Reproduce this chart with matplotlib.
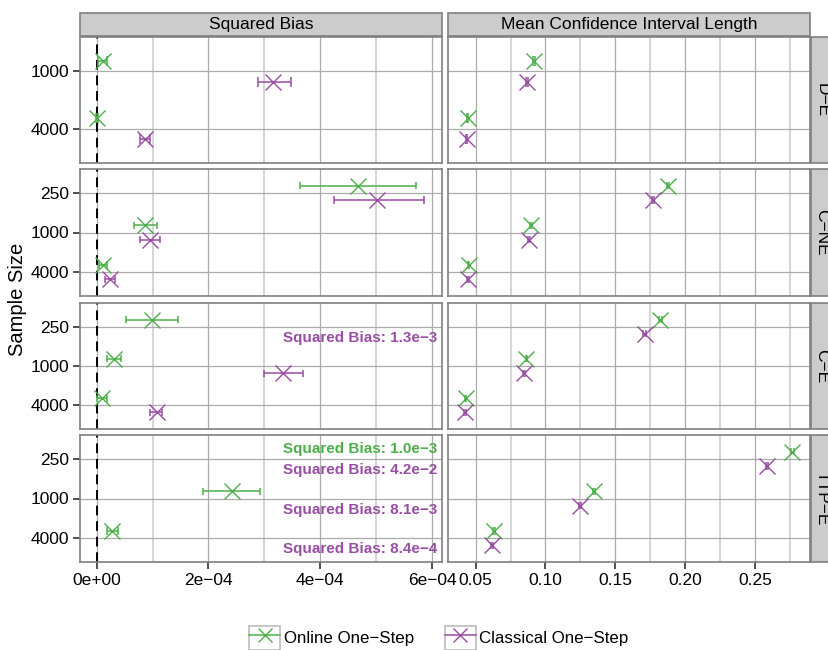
import matplotlib
matplotlib.use('Agg')
import matplotlib.pyplot as plt
import numpy as np
from matplotlib.patches import Rectangle
from matplotlib.lines import Line2D
from matplotlib.legend_handler import HandlerTuple
import matplotlib.transforms as mtransforms

plt.rcParams['font.family'] = ['Liberation Sans', 'DejaVu Sans']

nan = np.nan

# ---------------- data ----------------
row_labels = ['D−E', 'C−NE', 'C−E', 'TTP−E']
col_labels = ['Squared Bias', 'Mean Confidence Interval Length']
method_labels = ['Online One−Step', 'Classical One−Step']
method_colors = ['#4DAF4A', '#984EA3']

de_sizes = ['1000', '4000']
cne_sizes = ['250', '1000', '4000']
ce_sizes = ['250', '1000', '4000']
ttp_sizes = ['250', '1000', '4000']

# D-E
de_bias_on = [1.1e-5, 0.0]
de_bias_on_lo = [0.3e-5, -0.2e-5]
de_bias_on_hi = [1.9e-5, 0.2e-5]
de_bias_cl = [3.16e-4, 8.6e-5]
de_bias_cl_lo = [2.88e-4, 7.7e-5]
de_bias_cl_hi = [3.48e-4, 9.6e-5]
de_ci_on = [0.0919, 0.0443]
de_ci_cl = [0.0869, 0.0436]
de_ci_on_hw = [0.0006, 0.0005]
de_ci_cl_hw = [0.0006, 0.0005]

# C-NE
cne_bias_on = [4.67e-4, 8.7e-5, 1.1e-5]
cne_bias_on_lo = [3.64e-4, 6.6e-5, 0.4e-5]
cne_bias_on_hi = [5.71e-4, 1.08e-4, 1.9e-5]
cne_bias_cl = [5.02e-4, 9.6e-5, 2.3e-5]
cne_bias_cl_lo = [4.25e-4, 7.7e-5, 1.5e-5]
cne_bias_cl_hi = [5.86e-4, 1.13e-4, 3.2e-5]
cne_ci_on = [0.1879, 0.0895, 0.0450]
cne_ci_cl = [0.1769, 0.0883, 0.0445]
cne_ci_on_hw = [0.0008, 0.0006, 0.0005]
cne_ci_cl_hw = [0.0008, 0.0006, 0.0005]

# C-E
ce_bias_on = [9.9e-5, 3.0e-5, 0.95e-5]
ce_bias_on_lo = [5.2e-5, 1.8e-5, 0.1e-5]
ce_bias_on_hi = [1.46e-4, 4.3e-5, 1.8e-5]
ce_bias_cl = [1.3e-3, 3.33e-4, 1.07e-4]
ce_bias_cl_lo = [nan, 3.0e-4, 9.6e-5]
ce_bias_cl_hi = [nan, 3.70e-4, 1.17e-4]
ce_ci_on = [0.1824, 0.0864, 0.0429]
ce_ci_cl = [0.1710, 0.0847, 0.0424]
ce_ci_on_hw = [0.0008, 0.0006, 0.0005]
ce_ci_cl_hw = [0.0008, 0.0006, 0.0005]

# TTP-E
ttp_bias_on = [1.0e-3, 2.42e-4, 2.8e-5]
ttp_bias_on_lo = [nan, 1.90e-4, 1.8e-5]
ttp_bias_on_hi = [nan, 2.93e-4, 3.8e-5]
ttp_bias_cl = [4.2e-2, 8.1e-3, 8.4e-4]
ttp_bias_cl_lo = [nan, nan, nan]
ttp_bias_cl_hi = [nan, nan, nan]
ttp_ci_on = [0.2769, 0.1345, 0.0631]
ttp_ci_cl = [0.2586, 0.1250, 0.0617]
ttp_ci_on_hw = [0.0009, 0.0007, 0.0005]
ttp_ci_cl_hw = [0.0009, 0.0007, 0.0005]

bias_ticks = [0.0, 2e-4, 4e-4, 6e-4]
bias_ticklabels = ['0e+00', '2e−04', '4e−04', '6e−04']
bias_minor = [1e-4, 3e-4, 5e-4]
ci_ticks = [0.05, 0.10, 0.15, 0.20, 0.25]
ci_ticklabels = ['0.05', '0.10', '0.15', '0.20', '0.25']
ci_minor = [0.075, 0.125, 0.175, 0.225, 0.275]

rows = [
    (de_sizes,
     [(de_bias_on, de_bias_on_lo, de_bias_on_hi), (de_bias_cl, de_bias_cl_lo, de_bias_cl_hi)],
     [(de_ci_on, de_ci_on_hw), (de_ci_cl, de_ci_cl_hw)]),
    (cne_sizes,
     [(cne_bias_on, cne_bias_on_lo, cne_bias_on_hi), (cne_bias_cl, cne_bias_cl_lo, cne_bias_cl_hi)],
     [(cne_ci_on, cne_ci_on_hw), (cne_ci_cl, cne_ci_cl_hw)]),
    (ce_sizes,
     [(ce_bias_on, ce_bias_on_lo, ce_bias_on_hi), (ce_bias_cl, ce_bias_cl_lo, ce_bias_cl_hi)],
     [(ce_ci_on, ce_ci_on_hw), (ce_ci_cl, ce_ci_cl_hw)]),
    (ttp_sizes,
     [(ttp_bias_on, ttp_bias_on_lo, ttp_bias_on_hi), (ttp_bias_cl, ttp_bias_cl_lo, ttp_bias_cl_hi)],
     [(ttp_ci_on, ttp_ci_on_hw), (ttp_ci_cl, ttp_ci_cl_hw)]),
]

# ---------------- layout ----------------
W, H = 829, 650
fig = plt.figure(figsize=(W / 100, H / 100), dpi=100)


def fx(px):
    return px / W


def fy(py):
    return 1 - py / H


cols_px = [(80, 442), (448, 810)]
rows_px = [(37, 163), (169, 296), (303, 429), (435, 562)]
xlims = [(-3.0e-5, 6.18e-4), (0.0302, 0.2895)]
dodge = [-0.18, 0.18]
text_off = [-0.25, 0.28]
cap = 0.09
border_c = '#7F7F7F'
major_c = '#ABABAB'
minor_c = '#D2D2D2'
MS = 12


def fmt_bias(v):
    m, e = f"{v:.1e}".split('e')
    ei = int(e)
    sign = '−' if ei < 0 else ''
    return f"Squared Bias: {m}e{sign}{abs(ei)}"


for r, (sizes, bias, ci) in enumerate(rows):
    y0, y1 = rows_px[r]
    n = len(sizes)
    ypos = np.arange(n)
    for c in range(2):
        x0, x1 = cols_px[c]
        ax = fig.add_axes([fx(x0), fy(y1), fx(x1 - x0), (y1 - y0) / H])
        ax.set_xlim(*xlims[c])
        ax.set_ylim(n - 1 + 0.6, -0.6)
        ax.set_yticks(ypos)
        ax.set_yticklabels(sizes if c == 0 else [])
        if c == 0:
            ax.set_xticks(bias_ticks)
            ax.set_xticks(bias_minor, minor=True)
            ax.set_xticklabels(bias_ticklabels if r == 3 else [])
        else:
            ax.set_xticks(ci_ticks)
            ax.set_xticks(ci_minor, minor=True)
            ax.set_xticklabels(ci_ticklabels if r == 3 else [])
        ax.set_axisbelow(True)
        ax.grid(True, which='major', color=major_c, lw=0.9)
        ax.grid(True, which='minor', axis='x', color=minor_c, lw=1.3)
        for s in ax.spines.values():
            s.set_color(border_c)
            s.set_linewidth(1.2)
        ax.tick_params(axis='both', which='minor', length=0)
        ax.tick_params(axis='y', length=5 if c == 0 else 0, width=1.2,
                       color='#333333', labelsize=12.5, labelcolor='black', pad=3)
        ax.tick_params(axis='x', length=5 if r == 3 else 0, width=1.2,
                       color='#333333', labelsize=12.5, labelcolor='black', pad=3)

        tr = mtransforms.blended_transform_factory(ax.transAxes, ax.transData)
        if c == 0:
            ax.axvline(0, color='black', lw=1.4, ls=(0, (5, 3)), zorder=2)
            for m in range(2):
                est, lo, hi = bias[m]
                col = method_colors[m]
                for i in range(n):
                    yy = ypos[i] + dodge[m]
                    if est[i] > xlims[0][1]:
                        ax.text(0.988, ypos[i] + text_off[m], fmt_bias(est[i]),
                                transform=tr, ha='right', va='center',
                                color=col, fontsize=11, fontweight='bold', zorder=5)
                        continue
                    if not np.isnan(lo[i]):
                        ax.hlines(yy, lo[i], hi[i], color=col, lw=1.1, zorder=3)
                        ax.vlines([lo[i], hi[i]], yy - cap, yy + cap, color=col, lw=1.1, zorder=3)
                    ax.plot([est[i]], [yy], marker='x', ms=MS, mew=1.0,
                            color=col, ls='none', zorder=4)
        else:
            for m in range(2):
                est, hw = ci[m]
                col = method_colors[m]
                for i in range(n):
                    yy = ypos[i] + dodge[m]
                    lo_, hi_ = est[i] - hw[i], est[i] + hw[i]
                    ax.hlines(yy, lo_, hi_, color=col, lw=1.1, zorder=3)
                    ax.vlines([lo_, hi_], yy - cap, yy + cap, color=col, lw=1.1, zorder=3)
                    ax.plot([est[i]], [yy], marker='x', ms=MS, mew=1.0,
                            color=col, ls='none', zorder=4)

    # right strip
    fig.add_artist(Rectangle((fx(811), fy(y1)), fx(30), (y1 - y0) / H,
                             transform=fig.transFigure, facecolor='#CCCCCC',
                             edgecolor=border_c, lw=1.2))
    fig.text(fx(822), fy((y0 + y1) / 2), row_labels[r], rotation=-90,
             ha='center', va='center', fontsize=12.5, color='black')

# top strips
for c in range(2):
    x0, x1 = cols_px[c]
    fig.add_artist(Rectangle((fx(x0), fy(36)), fx(x1 - x0), 23 / H,
                             transform=fig.transFigure, facecolor='#CCCCCC',
                             edgecolor=border_c, lw=1.2))
    fig.text(fx((x0 + x1) / 2), fy(24.5), col_labels[c], ha='center', va='center',
             fontsize=12.5, color='black')

fig.text(fx(18), fy((37 + 562) / 2), 'Sample Size', rotation=90,
         ha='center', va='center', fontsize=14.5, color='black')

# legend
handles = []
for m in range(2):
    box = Rectangle((0, 0), 1, 1, facecolor='white', edgecolor='#BDBDBD', lw=1.2)
    ln = Line2D([0], [0], color=method_colors[m], marker='x', ms=10, mew=1.0, lw=1.1)
    handles.append((box, ln))
fig.legend(handles, method_labels, handler_map={tuple: HandlerTuple(ndivide=1, pad=0)},
           loc='center', bbox_to_anchor=(fx(439), fy(638)), ncol=2, frameon=False,
           fontsize=12.2, handlelength=1.8, handleheight=1.8, handletextpad=0.22,
           columnspacing=1.85)

fig.savefig('out.png', dpi=100)
